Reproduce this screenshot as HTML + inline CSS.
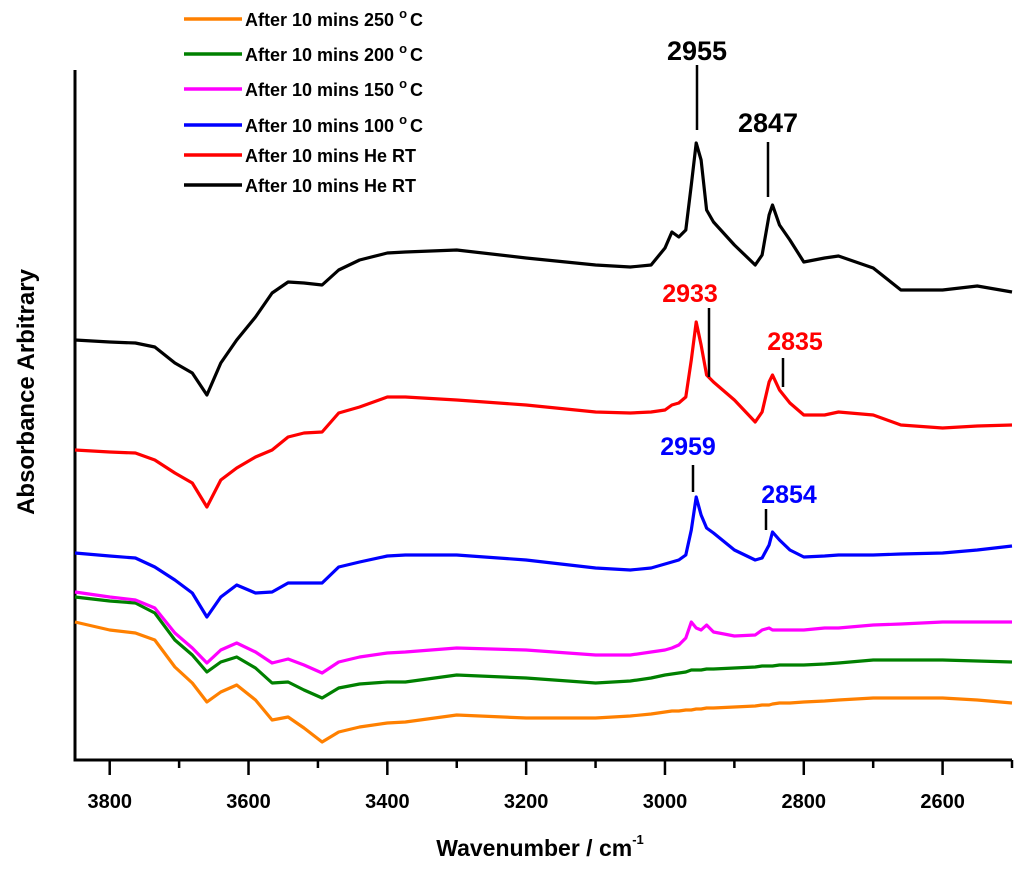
<!DOCTYPE html>
<html><head><meta charset="utf-8"><style>
html,body{margin:0;padding:0;background:#fff;}
svg{display:block;font-family:"Liberation Sans",Arial,sans-serif;}
</style></head><body>
<svg id="chart" width="1024" height="871" viewBox="0 0 1024 871" xmlns="http://www.w3.org/2000/svg">
<g id="axes"></g>
<g id="series"></g>
<g id="annot"></g>
<g id="legend"></g>
<text x="540" y="856" text-anchor="middle" font-size="23" font-weight="bold">Wavenumber / cm<tspan font-size="13" dy="-12">-1</tspan></text>
<text transform="translate(34,392) rotate(-90)" text-anchor="middle" font-size="24" font-weight="bold">Absorbance Arbitrary</text>
</svg>
<script>
const wavenumbers=[3850,3800,3763,3735,3706,3681,3660,3640,3617,3590,3566,3543,3520,3494,3470,3440,3400,3374,3300,3200,3100,3050,3020,3000,2990,2980,2970,2962,2955,2948,2940,2930,2900,2870,2860,2850,2845,2835,2820,2800,2770,2750,2700,2660,2600,2550,2500];
const blackValues=[460,458,457,453,437,427,405,437,460,483,507,518,517,515,530,540,547,548,550,542,535,533,535,552,568,563,570,615,657,640,590,578,555,535,545,585,595,575,560,538,542,544,532,510,510,514,508];
const redValues=[350,348,347,340,327,317,293,320,332,343,350,363,367,368,387,393,403,403,400,395,388,387,388,390,395,397,403,440,478,455,425,418,400,378,388,418,425,410,397,385,385,388,385,375,372,374,375];
const blueValues=[247,244,242,233,220,207,183,203,215,207,208,217,217,217,233,238,244,245,245,240,232,230,232,236,238,240,245,270,303,285,272,267,250,240,242,255,268,260,250,243,244,245,245,246,247,250,254];
const magentaValues=[208,203,200,192,167,152,137,150,157,148,137,141,135,127,138,143,147,148,152,150,145,145,148,150,152,155,162,178,172,170,175,168,164,165,170,172,170,170,170,170,172,172,175,176,178,178,178];
const greenValues=[203,199,197,187,160,145,128,138,143,132,117,118,110,102,112,116,118,118,125,122,117,119,122,125,126,127,128,130,130,130,131,131,132,133,134,134,134,135,135,135,136,137,140,140,140,139,138];
const orangeValues=[178,170,167,160,133,117,98,108,115,100,80,83,72,58,68,73,77,78,85,82,82,84,86,88,89,89,90,90,91,91,92,92,93,94,95,95,96,97,97,98,99,100,102,102,102,100,97];
const majorTicks=[3800,3600,3400,3200,3000,2800,2600];
const minorTicks=[3700,3500,3300,3100,2900,2700,2500];
const legendLabels=["After 10 mins 250 ","After 10 mins 200 ","After 10 mins 150 ","After 10 mins 100 ","After 10 mins He RT","After 10 mins He RT"];

const NS="http://www.w3.org/2000/svg";
const X0=75,X1=1012,WN0=3850,WN1=2500;
function xs(w){return X0+(WN0-w)/(WN0-WN1)*(X1-X0);}
function ys(v){return 800-v;}
function mk(tag,attrs,parent){const e=document.createElementNS(NS,tag);for(const k in attrs)e.setAttribute(k,attrs[k]);parent.appendChild(e);return e;}

const axes=document.getElementById('axes');
let ax=mk('path',{d:`M${X0},70 V760 H${X1}`,fill:'none',stroke:'#000','stroke-width':3},axes);


majorTicks.forEach(w=>{
  const t=mk('line',{x1:xs(w),x2:xs(w),y1:760,y2:775,stroke:'#000','stroke-width':2.5},axes);
  
  
  const l=mk('text',{x:xs(w),y:808,'text-anchor':'middle','font-size':20,'font-weight':'bold'},axes);
  l.textContent=w;
  
  
});
minorTicks.forEach(w=>{
  const t=mk('line',{x1:xs(w),x2:xs(w),y1:760,y2:768,stroke:'#000','stroke-width':2.5},axes);
  
  
});

const seriesDefs=[[orangeValues,'#ff8000','series-250c'],[greenValues,'#008000','series-200c'],[magentaValues,'#ff00ff','series-150c'],[blueValues,'#0000ff','series-100c'],[redValues,'#ff0000','series-he-rt-red'],[blackValues,'#000000','series-he-rt-black']];
const sg=document.getElementById('series');
seriesDefs.forEach(([vals,col,name])=>{
  const d=vals.map((v,i)=>(i?'L':'M')+xs(wavenumbers[i]).toFixed(1)+','+ys(v).toFixed(1)).join(' ');
  const p=mk('path',{d:d,fill:'none',stroke:col,'stroke-width':3.2,'stroke-linejoin':'round'},sg);
  
  
});

const an=document.getElementById('annot');
const annots=[["2955",'#000',697,60,697,65,130,27],["2847",'#000',768,132,768,142,197,27],["2933",'#ff0000',690,302,709,308,377,25],["2835",'#ff0000',795,350,783,358,387,25],["2959",'#0000ff',688,455,693,465,492,25],["2854",'#0000ff',789,503,766,509,530,25]];
annots.forEach(([txt,col,tx,ty,lx,l1,l2,fs])=>{
  const t=mk('text',{x:tx,y:ty,'text-anchor':'middle','font-size':fs,'font-weight':'bold',fill:col},an);
  t.textContent=txt;
  
  
  const l=mk('line',{x1:lx,x2:lx,y1:l1,y2:l2,stroke:'#000','stroke-width':2.5},an);
  
  
});

const lg=document.getElementById('legend');
const legendColors=['#ff8000','#008000','#ff00ff','#0000ff','#ff0000','#000000'];
const legendY=[19,54,89,125,155,185];
legendLabels.forEach((lab,i)=>{
  const l=mk('line',{x1:184,x2:242,y1:legendY[i],y2:legendY[i],stroke:legendColors[i],'stroke-width':3.5},lg);
  
  
  const t=mk('text',{x:245,y:legendY[i]+7,'font-size':18,'font-weight':'bold'},lg);
  t.textContent=lab;
  if(i<4){
    const s=mk('tspan',{'font-size':13,dy:-8},t);
    s.textContent='o';
    const c=mk('tspan',{dy:8,dx:3},t);
    c.textContent='C';
  }
  
  
});
</script>
</body></html>
